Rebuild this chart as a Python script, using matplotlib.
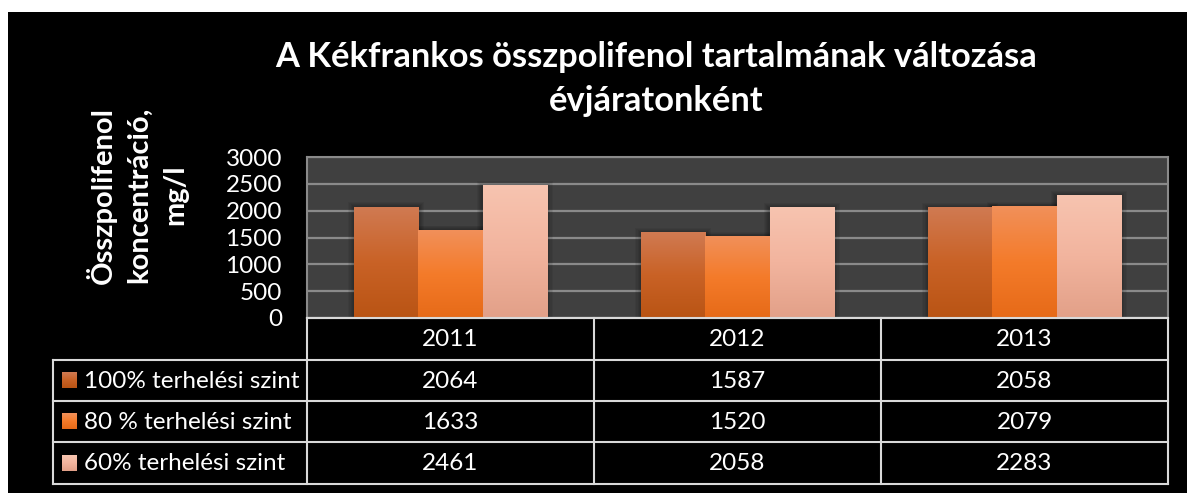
import numpy as np
import matplotlib.pyplot as plt
from matplotlib.patches import Rectangle

years = ['2011', '2012', '2013']
series = ['100% terhelési szint', '80 % terhelési szint', '60% terhelési szint']
v100 = [2064, 1587, 2058]
v80 = [1633, 1520, 2079]
v60 = [2461, 2058, 2283]
values = [v100, v80, v60]
yticks = [0, 500, 1000, 1500, 2000, 2500, 3000]

# top / middle / bottom colours of the gradient fills
grads = [
    ['#D07A52', '#C96226', '#B95414'],
    ['#F1905A', '#F47B2A', '#E66A18'],
    ['#F7C4B0', '#F2B49E', '#E2A088'],
]

plt.rcParams['font.family'] = ['Lato', 'DejaVu Sans']

W, H = 1187, 493
fig = plt.figure(figsize=(W / 100, H / 100), dpi=100)
fig.patch.set_facecolor('white')

# black chart area (white strip on top and left)
bg = fig.add_axes([8 / W, 0, 1 - 8 / W, (H - 12) / H])
bg.set_facecolor('black')
bg.set_xticks([])
bg.set_yticks([])
for s in bg.spines.values():
    s.set_visible(False)

x0, x1, ytop, ybot = 307, 1168, 157, 318
ax = fig.add_axes([x0 / W, (H - ybot) / H, (x1 - x0) / W, (ybot - ytop) / H])
ax.set_facecolor('#404040')
ax.set_ylim(0, 3000)
ax.set_xlim(-0.5, 2.5)
ax.set_yticks(yticks)
ax.set_yticklabels([str(t) for t in yticks], color='white', fontsize=17.5)
ax.tick_params(axis='y', length=0, pad=18)
ax.set_xticks([])
ax.grid(axis='y', color='#8a8a8a', linewidth=1.6)
ax.set_axisbelow(True)
for s in ax.spines.values():
    s.set_color('#8a8a8a')
    s.set_linewidth(1.5)
ax.spines['bottom'].set_color('#d9d9d9')

x = np.arange(len(years))
bw = 0.224
for i, vals in enumerate(values):
    bars = ax.bar(x + (i - 1) * bw, vals, bw, color='none', zorder=3)
    cmap = plt.matplotlib.colors.LinearSegmentedColormap.from_list('g%d' % i, grads[i][::-1])
    grad = np.linspace(0, 1, 256).reshape(-1, 1)
    for b in bars:
        bx, by = b.get_xy()
        bwid, bh = b.get_width(), b.get_height()
        # soft shadow
        for k in range(1, 6):
            ax.add_patch(Rectangle((bx - 0.004 * k, by), bwid + 0.008 * k, bh + 18 * k,
                                   color='black', alpha=0.06, lw=0, zorder=2))
        ax.imshow(grad, cmap=cmap, extent=[bx, bx + bwid, by, by + bh],
                  origin='lower', aspect='auto', zorder=4)
ax.set_xlim(-0.5, 2.5)
ax.set_ylim(0, 3000)

# y axis title
fig.text(137 / W, 1 - 195 / H, 'Összpolifenol\nkoncentráció,\nmg/l', rotation=90,
         color='white', fontsize=21, fontweight='bold', ha='center', va='center',
         linespacing=1.45, multialignment='center')

# chart title
fig.text(656 / W, 1 - 79 / H, 'A Kékfrankos összpolifenol tartalmának változása\névjáratonként',
         color='white', fontsize=24.8, fontweight='bold', ha='center', va='center',
         linespacing=1.45)

# data table, drawn in pixel coordinates
tab = fig.add_axes([0, 0, 1, 1])
tab.set_xlim(0, W)
tab.set_ylim(H, 0)
tab.axis('off')
lc = '#d9d9d9'
lw = 1.5
fs = 17.5
rows = [318, 360, 401, 442, 484]
leg_x = 53
colw = (x1 - x0) / len(years)
# header row border
tab.plot([x0, x1, x1], [rows[0], rows[0], rows[-1]], color=lc, lw=lw)
tab.plot([x0, x0], [rows[0], rows[-1]], color=lc, lw=lw)
for r in rows[1:]:
    tab.plot([leg_x, x1], [r, r], color=lc, lw=lw)
tab.plot([leg_x, leg_x], [rows[1], rows[-1]], color=lc, lw=lw)
for j in range(1, len(years)):
    tab.plot([x0 + j * colw] * 2, [rows[0], rows[-1]], color=lc, lw=lw)

for j, yr in enumerate(years):
    tab.text(x0 + (j + 0.5) * colw, (rows[0] + rows[1]) / 2 + 1, yr, color='white',
             fontsize=fs, ha='center', va='center')
for i, name in enumerate(series):
    yc = (rows[i + 1] + rows[i + 2]) / 2
    cmap = plt.matplotlib.colors.LinearSegmentedColormap.from_list('l%d' % i, grads[i])
    tab.imshow(np.linspace(0, 1, 64).reshape(-1, 1), cmap=cmap,
               extent=[62, 77, yc + 8, yc - 8], origin='upper', aspect='auto')
    tab.text(84, yc + 1, name, color='white', fontsize=fs, ha='left', va='center')
    for j in range(len(years)):
        tab.text(x0 + (j + 0.5) * colw, yc + 1, str(values[i][j]), color='white',
                 fontsize=fs, ha='center', va='center')
tab.set_xlim(0, W)
tab.set_ylim(H, 0)

fig.savefig('out.png', dpi=100, facecolor=fig.get_facecolor())
